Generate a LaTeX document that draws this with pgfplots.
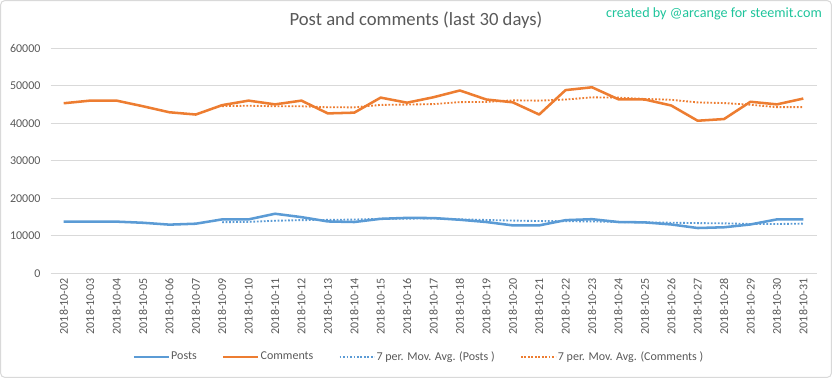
\documentclass[border=0pt]{standalone}
\usepackage{pgfplots}
\pgfplotsset{compat=1.18}
\usepackage{fontspec}
\setmainfont{Carlito}
\definecolor{pblue}{HTML}{5B9BD5}
\definecolor{porange}{HTML}{ED7D31}
\definecolor{gridc}{HTML}{D9D9D9}
\definecolor{txt}{HTML}{595959}
\definecolor{mark}{RGB}{30,196,155}
\begin{document}
\begin{tikzpicture}[x=1pt,y=1pt]
\path[use as bounding box] (0,0) rectangle (624,283.5);
\draw[gridc, line width=0.75pt, rounded corners=3pt] (0.5,0.5) rectangle (623.5,283);
\node[font=\fontsize{14}{16}\selectfont, text=txt] at (312,268.2) {Post and comments (last 30 days)};
\node[font=\fontsize{10.6}{12}\selectfont, text=mark] at (535.5,272.8) {created by @arcange for steemit.com};
\begin{axis}[
  at={(37.875pt,78.375pt)}, anchor=south west,
  scale only axis, width=574.5pt, height=169.125pt,
  xmin=-0.5, xmax=28.5, ymin=0, ymax=60000,
  ytick={0,10000,20000,30000,40000,50000,60000},
  xtick={0,...,28},
  xticklabels={2018-10-02,2018-10-03,2018-10-04,2018-10-05,2018-10-06,2018-10-07,2018-10-09,2018-10-10,2018-10-11,2018-10-12,2018-10-13,2018-10-14,2018-10-15,2018-10-16,2018-10-17,2018-10-18,2018-10-19,2018-10-20,2018-10-21,2018-10-22,2018-10-23,2018-10-24,2018-10-25,2018-10-26,2018-10-27,2018-10-28,2018-10-29,2018-10-30,2018-10-31},
  x tick label style={rotate=90, anchor=east, font=\fontsize{9}{10}\selectfont, text=txt},
  y tick label style={font=\fontsize{9}{10}\selectfont, text=txt, xshift=-4pt},
  /pgf/number format/assume math mode=true,
  scaled y ticks=false,
  yticklabel={\pgfmathprintnumber[fixed,precision=0,1000 sep={}]{\tick}},
  ymajorgrids, grid style={gridc, line width=0.75pt},
  axis line style={draw=none},
  major tick length=0pt,
  legend columns=4,
  legend style={at={(0.4806,-0.37)}, anchor=center, draw=none, fill=none,
    font=\fontsize{9}{10}\selectfont, text=txt,
    nodes={inner xsep=1pt},
    /tikz/every even column/.append style={column sep=18pt}},
  legend image code/.code={\draw[#1] (0pt,0pt) -- (26pt,0pt);},
]
\addplot[pblue, line width=1.9pt, line join=round] coordinates {
(0,13800)(1,13800)(2,13800)(3,13500)(4,13000)(5,13250)(6,14400)(7,14400)(8,15900)(9,15000)
(10,13850)(11,13700)(12,14550)(13,14800)(14,14750)(15,14300)(16,13700)(17,12800)(18,12800)(19,14200)
(20,14450)(21,13700)(22,13600)(23,13050)(24,12100)(25,12300)(26,13050)(27,14400)(28,14400)};
\addlegendentry{Posts}
\addplot[porange, line width=1.9pt, line join=round] coordinates {
(0,45300)(1,46000)(2,46000)(3,44500)(4,42900)(5,42300)(6,44800)(7,46000)(8,45000)(9,46000)
(10,42600)(11,42800)(12,46800)(13,45450)(14,46900)(15,48700)(16,46300)(17,45550)(18,42300)(19,48800)
(20,49550)(21,46350)(22,46300)(23,44700)(24,40650)(25,41100)(26,45700)(27,45000)(28,46550)};
\addlegendentry{Comments}
\addplot[pblue, line width=1.4pt, dash pattern=on 1.3pt off 1.3pt] coordinates {
(6,13650)(7,13736)(8,14036)(9,14207)(10,14257)(11,14357)(12,14543)(13,14600)(14,14650)(15,14421)
(16,14236)(17,14086)(18,13957)(19,13907)(20,13857)(21,13707)(22,13607)(23,13514)(24,13414)(25,13343)
(26,13179)(27,13171)(28,13271)};
\addlegendentry{7 per. Mov. Avg. (Posts )}
\addplot[porange, line width=1.4pt, dash pattern=on 1.3pt off 1.3pt] coordinates {
(6,44543)(7,44643)(8,44500)(9,44500)(10,44229)(11,44214)(12,44857)(13,44950)(14,45079)(15,45607)
(16,45650)(17,46071)(18,46000)(19,46286)(20,46871)(21,46793)(22,46450)(23,46221)(24,45521)(25,45350)
(26,44907)(27,44257)(28,44286)};
\addlegendentry{7 per. Mov. Avg. (Comments )}
\end{axis}
\end{tikzpicture}
\end{document}
